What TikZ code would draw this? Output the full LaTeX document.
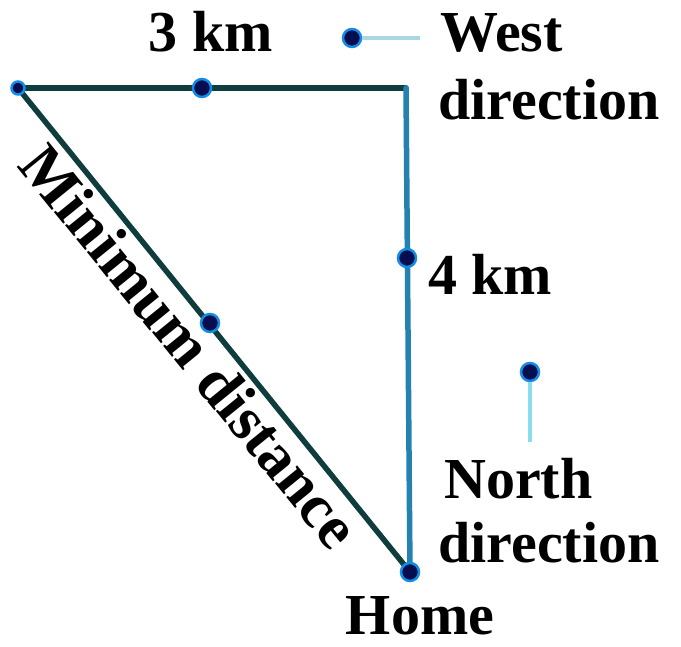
\documentclass[tikz,border=0pt]{standalone}
\usepackage{fontspec}
\setmainfont{Liberation Serif}
\definecolor{edgedark}{RGB}{15,60,60}
\definecolor{edgeblue}{RGB}{35,130,175}
\definecolor{dotcol}{RGB}{5,15,80}
\definecolor{dotring}{RGB}{20,140,230}
\definecolor{legline}{RGB}{170,215,230}
\begin{document}
\begin{tikzpicture}[x=1pt,y=-1pt,
  side/.style={line width=5.5pt,edgedark,line cap=round},
  sideb/.style={line width=5.5pt,edgeblue,line cap=round},
  dotnode/.style={circle,fill=dotcol,draw=dotring,line width=2.5pt,inner sep=0pt,minimum size=18pt},
  lbl/.style={font=\fontsize{58}{60}\selectfont\bfseries,inner sep=0pt,text=black},
  leg/.style={line width=3.5pt,legline}]
\useasboundingbox (0,0) rectangle (681,647);
\coordinate (A) at (18,88);
\coordinate (B) at (406,88);
\coordinate (C) at (410,572);
\draw[side] (A) -- (B);
\draw[sideb] (B) -- (C);
\draw[side] (C) -- (A);
\node[dotnode,minimum size=13pt] (dA) at (A) {};
\node[dotnode] (dAB) at (202,88) {};
\node[dotnode] (dBC) at (407,258) {};
\node[dotnode] (dAC) at (210,323) {};
\node[dotnode] (dC) at (C) {};
% legend arrows
\coordinate (wend) at (420,38);
\node[dotnode] (wdot) at (352,38) {};
\draw[leg] (wdot) -- (wend);
\coordinate (nend) at (530,442);
\node[dotnode] (ndot) at (530,372) {};
\draw[leg,legline!80!cyan] (ndot) -- (nend);
% labels
\node[lbl,anchor=base] (km3) at (211,52) {3 km};
\node[lbl,anchor=base west] (west) at (440,52) {West};
\node[lbl,anchor=base west] (wdir) at (438,120) {direction};
\node[lbl,anchor=base west] (km4) at (428,295) {4 km};
\node[lbl,anchor=base west] (north) at (444,498) {North};
\node[lbl,anchor=base west] (ndir) at (438,562) {direction};
\node[lbl,anchor=base] (home) at (420,634) {Home};
\node[lbl,font=\fontsize{62}{64}\selectfont\bfseries,rotate=-50.9] (mind) at (190,346) {Minimum distance};
\end{tikzpicture}
\end{document}
